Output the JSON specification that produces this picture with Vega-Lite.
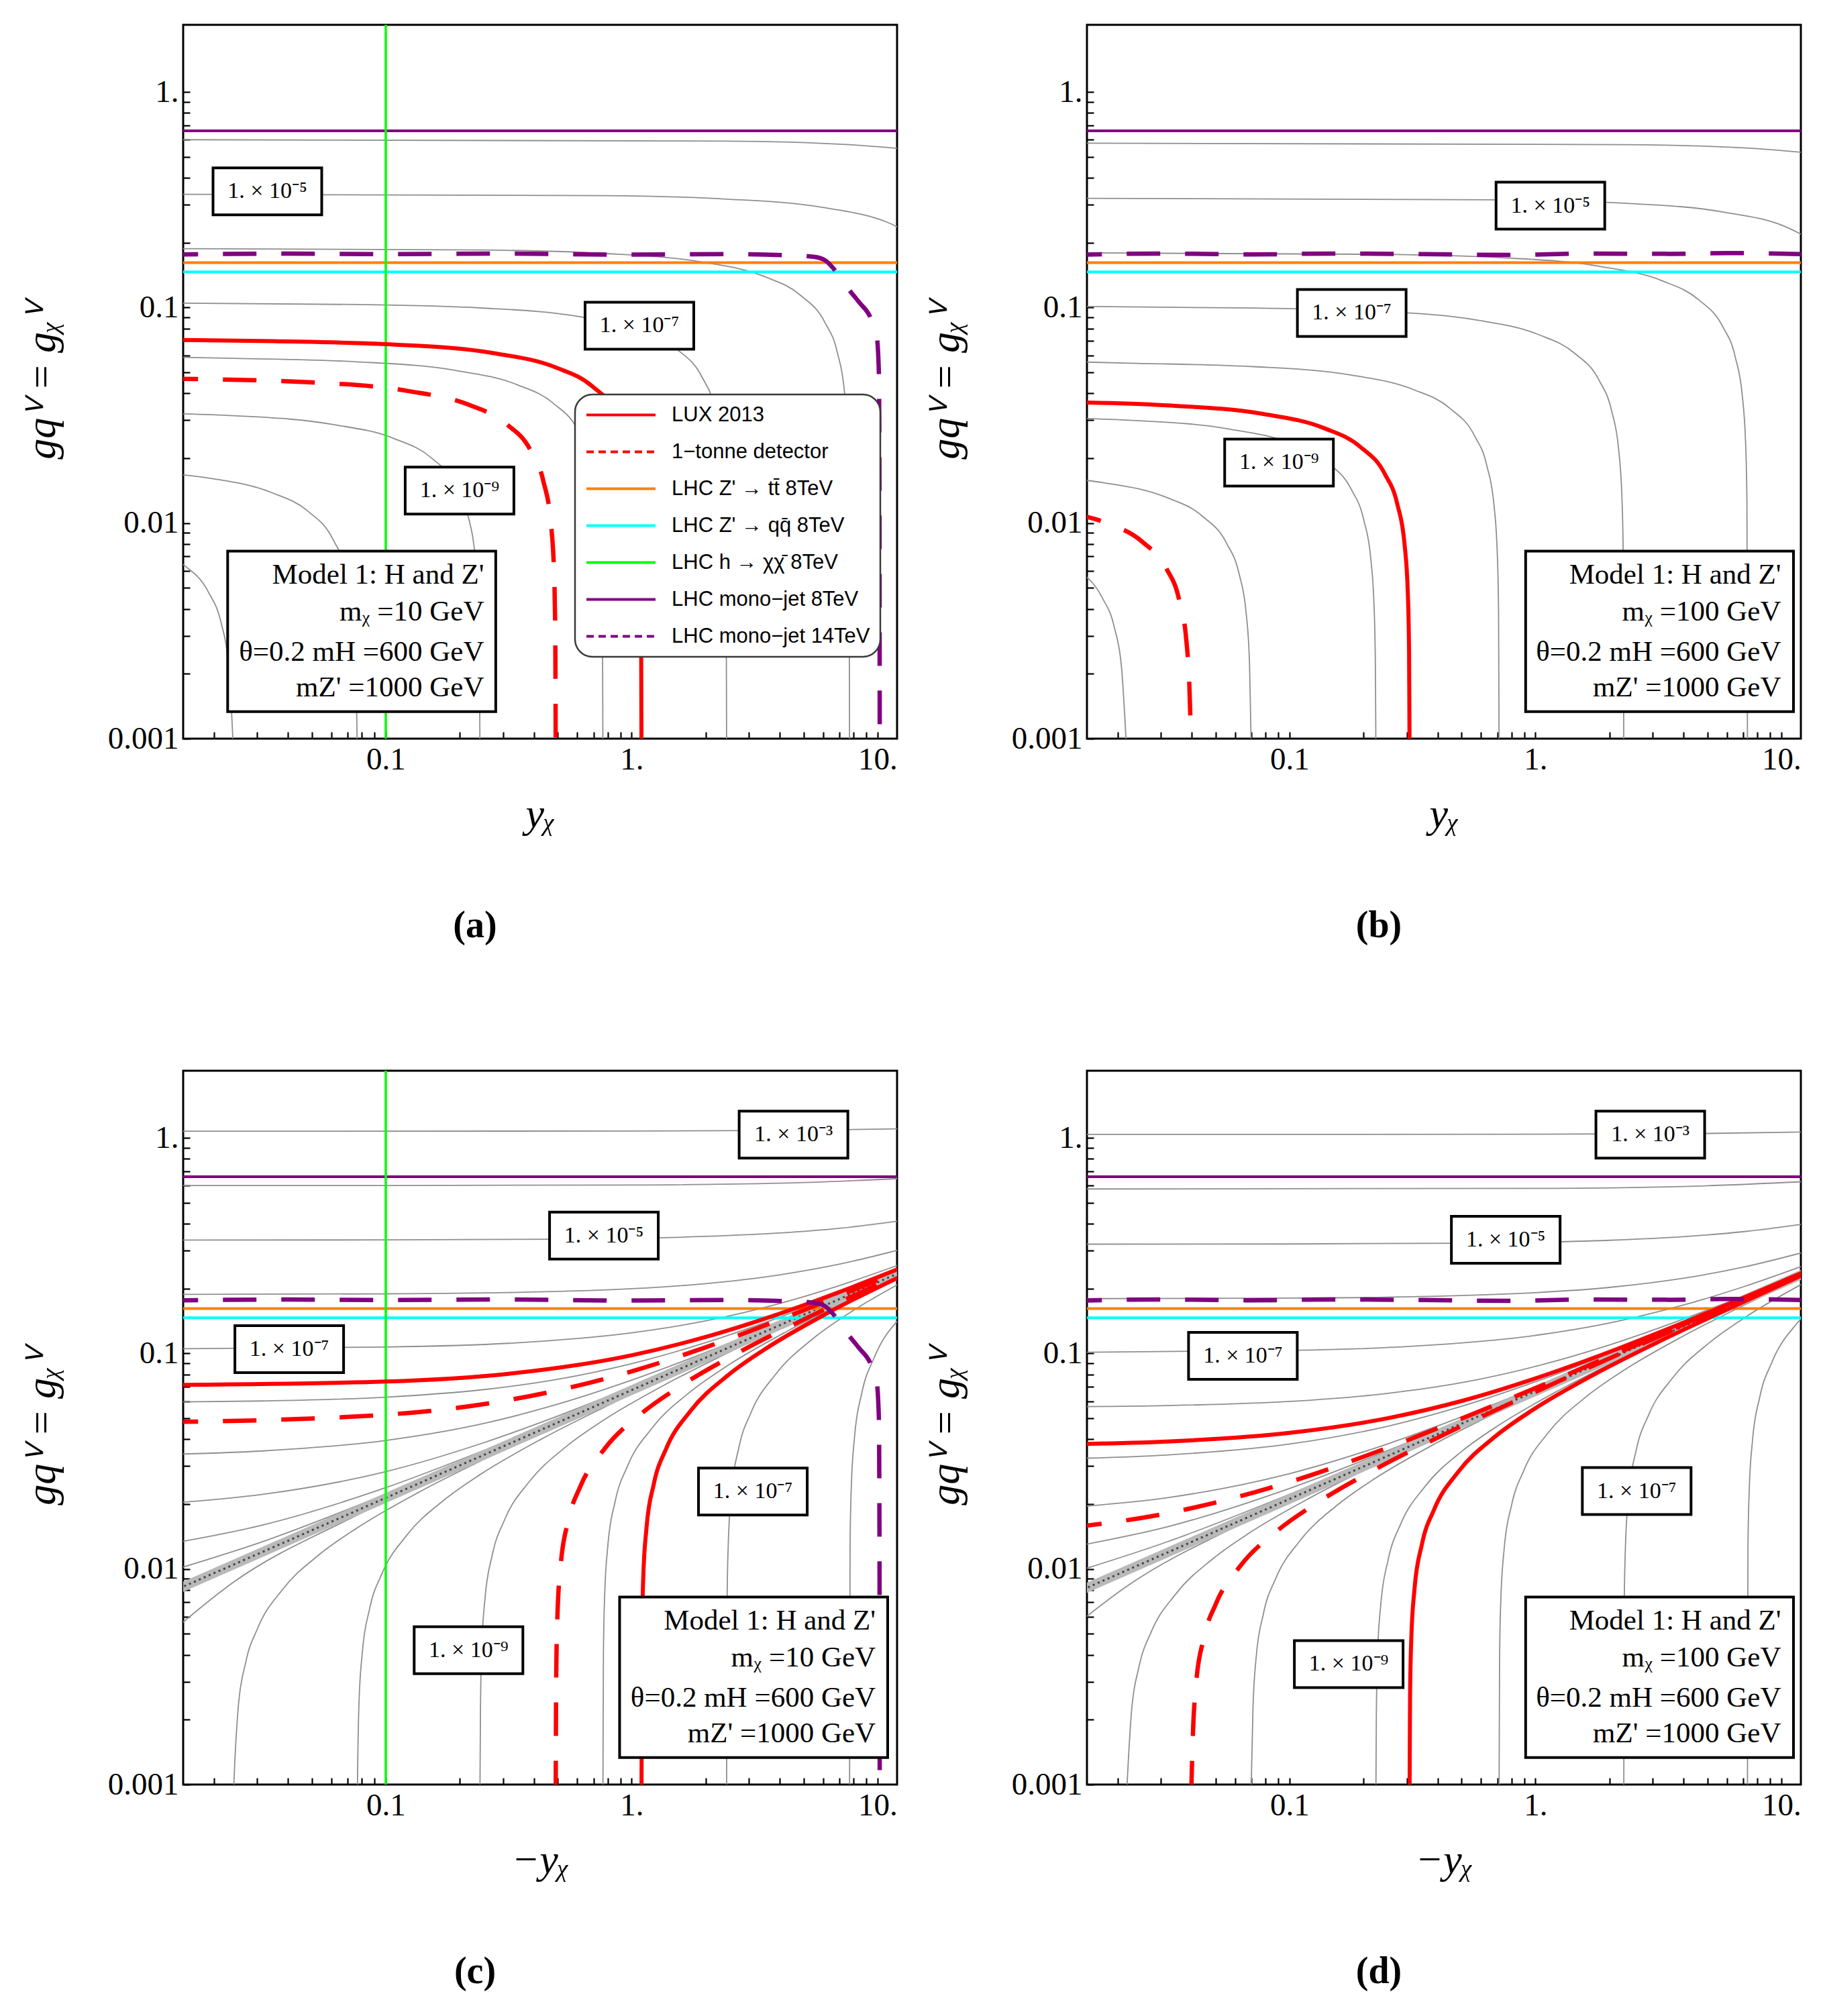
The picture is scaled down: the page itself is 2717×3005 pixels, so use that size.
{
"$schema": "https://vega.github.io/schema/vega-lite/v6.json",
"autosize": {"type": "pad"},
"padding": {"left": 29, "top": 35, "right": 10, "bottom": 10},
"background": "white",
"config": {
  "view": {"stroke": "black", "strokeWidth": 3},
  "axis": {"domain": false, "grid": false, "ticks": true, "tickColor": "black", "tickWidth": 2.2, "tickSize": -10, "labelFont": "Liberation Serif", "labelFontSize": 47, "labelColor": "black", "labelOverlap": false, "labelFlush": false, "labelBound": false, "titleFont": "Liberation Serif", "titleFontSize": 62, "titleFontStyle": "italic", "titleFontWeight": "normal", "titleColor": "black"},
  "axisX": {"labelPadding": 18, "titlePadding": 28},
  "axisY": {"labelPadding": 17, "titlePadding": 66},
  "title": {"font": "Liberation Serif", "fontSize": 56, "fontWeight": "bold", "color": "black"}
},
"datasets": {
"hl": [
 {"s":"LHC Z' → tt\u0304 8TeV","x":0.0126,"y":0.1616},{"s":"LHC Z' → tt\u0304 8TeV","x":13,"y":0.1616},
 {"s":"LHC Z' → qq\u0304 8TeV","x":0.0126,"y":0.1463},{"s":"LHC Z' → qq\u0304 8TeV","x":13,"y":0.1463},
 {"s":"LHC mono−jet 8TeV","x":0.0126,"y":0.661},{"s":"LHC mono−jet 8TeV","x":13,"y":0.661}
],
"vl": [
 {"s":"LHC h → χχ\u0304 8TeV","x":0.1,"y":0.0009},{"s":"LHC h → χχ\u0304 8TeV","x":0.1,"y":2.2}
],
"zc": [{"x":0.01,"y":0.00676},{"x":13,"y":0.2438}],
"zd": [{"x":0.01,"y":0.00668},{"x":13,"y":0.241}],
"aG": [
 {"c":"k1","x":0.0126,"y":0.601},{"c":"k1","x":2.43,"y":0.592},{"c":"k1","x":7.69,"y":0.570},{"c":"k1","x":19.3,"y":0.520},
 {"c":"k2","x":0.0126,"y":0.3357},{"c":"k2","x":0.769,"y":0.3304},{"c":"k2","x":2.432,"y":0.3185},{"c":"k2","x":6.109,"y":0.2905},{"c":"k2","x":10.86,"y":0.2497},{"c":"k2","x":15.35,"y":0.204},
 {"c":"k3","x":0.0126,"y":0.1879},{"c":"k3","x":0.2432,"y":0.1849},{"c":"k3","x":0.769,"y":0.1783},{"c":"k3","x":1.932,"y":0.1626},{"c":"k3","x":3.436,"y":0.1398},{"c":"k3","x":4.853,"y":0.1141},{"c":"k3","x":6.109,"y":0.0852},{"c":"k3","x":6.855,"y":0.062},{"c":"k3","x":7.345,"y":0.0399},{"c":"k3","x":7.568,"y":0.02377},{"c":"k3","x":7.656,"y":0.01274},{"c":"k3","x":7.691,"y":0.0009},
 {"c":"k4","x":0.0126,"y":0.105},{"c":"k4","x":0.0769,"y":0.1033},{"c":"k4","x":0.2432,"y":0.0996},{"c":"k4","x":0.611,"y":0.0908},{"c":"k4","x":1.086,"y":0.0781},{"c":"k4","x":1.535,"y":0.0638},{"c":"k4","x":1.932,"y":0.0476},{"c":"k4","x":2.168,"y":0.0346},{"c":"k4","x":2.323,"y":0.02228},{"c":"k4","x":2.393,"y":0.01327},{"c":"k4","x":2.421,"y":0.00711},{"c":"k4","x":2.432,"y":0.0009},
 {"c":"k5","x":0.0126,"y":0.059},{"c":"k5","x":0.02415,"y":0.0581},{"c":"k5","x":0.0764,"y":0.056},{"c":"k5","x":0.1919,"y":0.0511},{"c":"k5","x":0.3412,"y":0.0439},{"c":"k5","x":0.4819,"y":0.03585},{"c":"k5","x":0.6067,"y":0.02677},{"c":"k5","x":0.6808,"y":0.01946},{"c":"k5","x":0.7295,"y":0.01253},{"c":"k5","x":0.7516,"y":0.00746},{"c":"k5","x":0.7603,"y":0.004},{"c":"k5","x":0.7638,"y":0.0009},
 {"c":"k6","x":0.0126,"y":0.0323},{"c":"k6","x":0.02415,"y":0.0315},{"c":"k6","x":0.0607,"y":0.0287},{"c":"k6","x":0.1079,"y":0.0247},{"c":"k6","x":0.1524,"y":0.02016},{"c":"k6","x":0.1919,"y":0.01505},{"c":"k6","x":0.2153,"y":0.01094},{"c":"k6","x":0.2307,"y":0.00705},{"c":"k6","x":0.2377,"y":0.0042},{"c":"k6","x":0.2404,"y":0.00225},{"c":"k6","x":0.2415,"y":0.0009},
 {"c":"k7","x":0.0126,"y":0.01706},{"c":"k7","x":0.01923,"y":0.01615},{"c":"k7","x":0.0342,"y":0.01388},{"c":"k7","x":0.0483,"y":0.01134},{"c":"k7","x":0.0608,"y":0.00846},{"c":"k7","x":0.0682,"y":0.00615},{"c":"k7","x":0.0731,"y":0.00396},{"c":"k7","x":0.0753,"y":0.00236},{"c":"k7","x":0.0762,"y":0.00126},{"c":"k7","x":0.0766,"y":0.0009},
 {"c":"k8","x":0.0126,"y":0.00724},{"c":"k8","x":0.01514,"y":0.00637},{"c":"k8","x":0.01905,"y":0.00476},{"c":"k8","x":0.02138,"y":0.00346},{"c":"k8","x":0.02291,"y":0.00223},{"c":"k8","x":0.0236,"y":0.00133},{"c":"k8","x":0.02399,"y":0.0009}
],
"bG": [
 {"c":"k1","x":0.0126,"y":0.5794},{"c":"k1","x":2.291,"y":0.5702},{"c":"k1","x":7.244,"y":0.5497},{"c":"k1","x":18.2,"y":0.5014},
 {"c":"k2","x":0.0126,"y":0.3214},{"c":"k2","x":0.7244,"y":0.3162},{"c":"k2","x":2.291,"y":0.3048},{"c":"k2","x":5.754,"y":0.278},{"c":"k2","x":10.23,"y":0.239},{"c":"k2","x":14.45,"y":0.1952},
 {"c":"k3","x":0.0126,"y":0.1795},{"c":"k3","x":0.2301,"y":0.1766},{"c":"k3","x":0.7278,"y":0.1703},{"c":"k3","x":1.828,"y":0.1553},{"c":"k3","x":3.251,"y":0.1335},{"c":"k3","x":4.592,"y":0.109},{"c":"k3","x":5.781,"y":0.0814},{"c":"k3","x":6.486,"y":0.0592},{"c":"k3","x":6.95,"y":0.0381},{"c":"k3","x":7.161,"y":0.0227},{"c":"k3","x":7.244,"y":0.01216},{"c":"k3","x":7.278,"y":0.0009},
 {"c":"k4","x":0.0126,"y":0.1012},{"c":"k4","x":0.0723,"y":0.0995},{"c":"k4","x":0.2286,"y":0.096},{"c":"k4","x":0.5741,"y":0.0876},{"c":"k4","x":1.021,"y":0.0752},{"c":"k4","x":1.442,"y":0.0614},{"c":"k4","x":1.816,"y":0.0459},{"c":"k4","x":2.037,"y":0.0334},{"c":"k4","x":2.183,"y":0.02148},{"c":"k4","x":2.249,"y":0.0128},{"c":"k4","x":2.275,"y":0.00686},{"c":"k4","x":2.286,"y":0.0009},
 {"c":"k5","x":0.0126,"y":0.0561},{"c":"k5","x":0.02249,"y":0.0552},{"c":"k5","x":0.0711,"y":0.0532},{"c":"k5","x":0.1786,"y":0.0486},{"c":"k5","x":0.3177,"y":0.0417},{"c":"k5","x":0.4487,"y":0.0341},{"c":"k5","x":0.5649,"y":0.02544},{"c":"k5","x":0.6339,"y":0.0185},{"c":"k5","x":0.6792,"y":0.01191},{"c":"k5","x":0.6998,"y":0.0071},{"c":"k5","x":0.7079,"y":0.0038},{"c":"k5","x":0.7112,"y":0.0009},
 {"c":"k6","x":0.0126,"y":0.03073},{"c":"k6","x":0.02244,"y":0.03},{"c":"k6","x":0.0564,"y":0.02736},{"c":"k6","x":0.1002,"y":0.02352},{"c":"k6","x":0.1416,"y":0.0192},{"c":"k6","x":0.1782,"y":0.01434},{"c":"k6","x":0.2,"y":0.01042},{"c":"k6","x":0.2143,"y":0.00671},{"c":"k6","x":0.2208,"y":0.004},{"c":"k6","x":0.2234,"y":0.00214},{"c":"k6","x":0.2244,"y":0.0009},
 {"c":"k7","x":0.0126,"y":0.01609},{"c":"k7","x":0.01754,"y":0.01539},{"c":"k7","x":0.03119,"y":0.01323},{"c":"k7","x":0.04406,"y":0.0108},{"c":"k7","x":0.05546,"y":0.00806},{"c":"k7","x":0.06223,"y":0.00586},{"c":"k7","x":0.06668,"y":0.00378},{"c":"k7","x":0.06871,"y":0.00225},{"c":"k7","x":0.0695,"y":0.0012},{"c":"k7","x":0.06982,"y":0.0009},
 {"c":"k8","x":0.0126,"y":0.00649},{"c":"k8","x":0.01371,"y":0.00607},{"c":"k8","x":0.01726,"y":0.00453},{"c":"k8","x":0.01936,"y":0.0033},{"c":"k8","x":0.02075,"y":0.00212},{"c":"k8","x":0.02138,"y":0.00126},{"c":"k8","x":0.02173,"y":0.0009}
],
"cG": [
 {"c":"u0","x":0.0126,"y":1.074},{"c":"u0","x":1,"y":1.076},{"c":"u0","x":5,"y":1.085},{"c":"u0","x":12.6,"y":1.102},
 {"c":"u1","x":0.0126,"y":0.601},{"c":"u1","x":0.1,"y":0.6015},{"c":"u1","x":1,"y":0.605},{"c":"u1","x":3.981,"y":0.6166},{"c":"u1","x":12.59,"y":0.6483},
 {"c":"u2","x":0.0126,"y":0.3357},{"c":"u2","x":0.1,"y":0.3364},{"c":"u2","x":0.5012,"y":0.3391},{"c":"u2","x":1.995,"y":0.3492},{"c":"u2","x":3.981,"y":0.3621},{"c":"u2","x":7.079,"y":0.3815},{"c":"u2","x":12.59,"y":0.4135},
 {"c":"u3","x":0.0126,"y":0.1879},{"c":"u3","x":0.1,"y":0.1891},{"c":"u3","x":0.3162,"y":0.1917},{"c":"u3","x":1,"y":0.1997},{"c":"u3","x":1.995,"y":0.2109},{"c":"u3","x":3.981,"y":0.2315},{"c":"u3","x":7.079,"y":0.2604},{"c":"u3","x":12.59,"y":0.3052},
 {"c":"u4","x":0.0126,"y":0.105},{"c":"u4","x":0.1,"y":0.1071},{"c":"u4","x":0.3162,"y":0.1115},{"c":"u4","x":1,"y":0.1247},{"c":"u4","x":1.995,"y":0.1416},{"c":"u4","x":3.981,"y":0.1704},{"c":"u4","x":7.079,"y":0.2076},{"c":"u4","x":12.59,"y":0.2609},
 {"c":"u5","x":0.0126,"y":0.0595},{"c":"u5","x":0.03162,"y":0.0602},{"c":"u5","x":0.1,"y":0.0627},{"c":"u5","x":0.2512,"y":0.068},{"c":"u5","x":0.5012,"y":0.0759},{"c":"u5","x":1,"y":0.0897},{"c":"u5","x":1.995,"y":0.1122},{"c":"u5","x":3.981,"y":0.1471},{"c":"u5","x":7.079,"y":0.1891},{"c":"u5","x":12.59,"y":0.2468},
 {"c":"u6","x":0.0126,"y":0.034},{"c":"u6","x":0.03162,"y":0.0353},{"c":"u6","x":0.1,"y":0.0395},{"c":"u6","x":0.2512,"y":0.0474},{"c":"u6","x":0.5012,"y":0.0582},{"c":"u6","x":1,"y":0.0752},{"c":"u6","x":1.995,"y":0.101},{"c":"u6","x":3.981,"y":0.1388},{"c":"u6","x":7.079,"y":0.1827},{"c":"u6","x":12.59,"y":0.2418},
 {"c":"u7","x":0.0126,"y":0.0201},{"c":"u7","x":0.03162,"y":0.0222},{"c":"u7","x":0.1,"y":0.0283},{"c":"u7","x":0.2512,"y":0.0386},{"c":"u7","x":0.5012,"y":0.0513},{"c":"u7","x":1,"y":0.07},{"c":"u7","x":1.995,"y":0.0971},{"c":"u7","x":3.981,"y":0.1359},{"c":"u7","x":7.079,"y":0.1804},{"c":"u7","x":12.59,"y":0.24},
 {"c":"u8","x":0.0126,"y":0.01297},{"c":"u8","x":0.03162,"y":0.016},{"c":"u8","x":0.1,"y":0.02385},{"c":"u8","x":0.2512,"y":0.03555},{"c":"u8","x":0.5012,"y":0.0491},{"c":"u8","x":1,"y":0.0686},{"c":"u8","x":1.995,"y":0.0963},{"c":"u8","x":3.981,"y":0.1357},{"c":"u8","x":12.59,"y":0.2406},
 {"c":"u9","x":0.0126,"y":0.00962},{"c":"u9","x":0.03162,"y":0.01341},{"c":"u9","x":0.1,"y":0.02222},{"c":"u9","x":0.3162,"y":0.03857},{"c":"u9","x":1,"y":0.068},{"c":"u9","x":3.162,"y":0.1207},{"c":"u9","x":12.59,"y":0.2405},
 {"c":"l3","x":7.691,"y":0.0009},{"c":"l3","x":7.727,"y":0.01277},{"c":"l3","x":7.816,"y":0.02395},{"c":"l3","x":8.054,"y":0.0408},{"c":"l3","x":8.63,"y":0.0657},{"c":"l3","x":9.683,"y":0.0956},{"c":"l3","x":12.19,"y":0.1437},
 {"c":"l4","x":2.432,"y":0.0009},{"c":"l4","x":2.443,"y":0.00713},{"c":"l4","x":2.472,"y":0.01338},{"c":"l4","x":2.547,"y":0.02278},{"c":"l4","x":2.729,"y":0.03666},{"c":"l4","x":3.062,"y":0.0534},{"c":"l4","x":3.855,"y":0.0802},{"c":"l4","x":5.445,"y":0.1168},{"c":"l4","x":7.691,"y":0.1543},{"c":"l4","x":13.68,"y":0.2257},
 {"c":"l5","x":0.7638,"y":0.0009},{"c":"l5","x":0.7674,"y":0.00401},{"c":"l5","x":0.7762,"y":0.00752},{"c":"l5","x":0.7998,"y":0.01281},{"c":"l5","x":0.857,"y":0.02062},{"c":"l5","x":0.9616,"y":0.03003},{"c":"l5","x":1.211,"y":0.04513},{"c":"l5","x":1.71,"y":0.06569},{"c":"l5","x":2.415,"y":0.0868},{"c":"l5","x":4.295,"y":0.1269},{"c":"l5","x":7.638,"y":0.177},{"c":"l5","x":13.58,"y":0.2416},
 {"c":"l6","x":0.2415,"y":0.0009},{"c":"l6","x":0.2427,"y":0.00225},{"c":"l6","x":0.2455,"y":0.00423},{"c":"l6","x":0.2529,"y":0.0072},{"c":"l6","x":0.271,"y":0.0116},{"c":"l6","x":0.3041,"y":0.0169},{"c":"l6","x":0.3828,"y":0.02538},{"c":"l6","x":0.5408,"y":0.03694},{"c":"l6","x":0.7638,"y":0.04881},{"c":"l6","x":1.358,"y":0.07139},{"c":"l6","x":2.415,"y":0.0996},{"c":"l6","x":7.638,"y":0.1837},{"c":"l6","x":13.58,"y":0.2467},
 {"c":"l7","x":0.0766,"y":0.0009},{"c":"l7","x":0.0769,"y":0.00127},{"c":"l7","x":0.0778,"y":0.00238},{"c":"l7","x":0.0802,"y":0.00405},{"c":"l7","x":0.0859,"y":0.00652},{"c":"l7","x":0.0964,"y":0.0095},{"c":"l7","x":0.1213,"y":0.01427},{"c":"l7","x":0.1714,"y":0.02077},{"c":"l7","x":0.2421,"y":0.02744},{"c":"l7","x":0.4305,"y":0.04013},{"c":"l7","x":0.7656,"y":0.05598},{"c":"l7","x":2.421,"y":0.1033},{"c":"l7","x":7.656,"y":0.1857},{"c":"l7","x":13.61,"y":0.2481},
 {"c":"l8","x":0.024,"y":0.0009},{"c":"l8","x":0.02438,"y":0.00134},{"c":"l8","x":0.02512,"y":0.00228},{"c":"l8","x":0.02692,"y":0.00367},{"c":"l8","x":0.0302,"y":0.00534},{"c":"l8","x":0.038,"y":0.00802},{"c":"l8","x":0.0537,"y":0.01168},{"c":"l8","x":0.0759,"y":0.01543},{"c":"l8","x":0.1349,"y":0.02257},{"c":"l8","x":0.2399,"y":0.0315},{"c":"l8","x":0.7586,"y":0.0581},{"c":"l8","x":2.399,"y":0.1044},{"c":"l8","x":7.586,"y":0.1863},{"c":"l8","x":13.49,"y":0.2486},
 {"c":"l9","x":0.0126,"y":0.00479},{"c":"l9","x":0.024,"y":0.00868},{"c":"l9","x":0.0759,"y":0.0177},{"c":"l9","x":0.2399,"y":0.03266},{"c":"l9","x":0.7586,"y":0.05873},{"c":"l9","x":2.399,"y":0.1045},{"c":"l9","x":13.49,"y":0.2485}
],
"dG": [
 {"c":"u0","x":0.0126,"y":1.038},{"c":"u0","x":1,"y":1.04},{"c":"u0","x":5,"y":1.049},{"c":"u0","x":12.6,"y":1.066},
 {"c":"u1","x":0.0126,"y":0.5794},{"c":"u1","x":1,"y":0.5834},{"c":"u1","x":3.981,"y":0.5951},{"c":"u1","x":12.59,"y":0.6277},
 {"c":"u2","x":0.0126,"y":0.3214},{"c":"u2","x":0.1,"y":0.3221},{"c":"u2","x":0.5012,"y":0.3249},{"c":"u2","x":1.995,"y":0.335},{"c":"u2","x":3.981,"y":0.3482},{"c":"u2","x":7.079,"y":0.3677},{"c":"u2","x":12.59,"y":0.4},
 {"c":"u3","x":0.0126,"y":0.1795},{"c":"u3","x":0.1,"y":0.1807},{"c":"u3","x":0.3162,"y":0.1833},{"c":"u3","x":1,"y":0.1914},{"c":"u3","x":1.995,"y":0.2025},{"c":"u3","x":3.981,"y":0.2232},{"c":"u3","x":7.079,"y":0.2521},{"c":"u3","x":12.59,"y":0.2965},
 {"c":"u4","x":0.0126,"y":0.1012},{"c":"u4","x":0.1,"y":0.1033},{"c":"u4","x":0.3162,"y":0.108},{"c":"u4","x":1,"y":0.1213},{"c":"u4","x":1.995,"y":0.1384},{"c":"u4","x":3.981,"y":0.1675},{"c":"u4","x":7.079,"y":0.2047},{"c":"u4","x":12.59,"y":0.258},
 {"c":"u5","x":0.0126,"y":0.0566},{"c":"u5","x":0.03162,"y":0.0573},{"c":"u5","x":0.1,"y":0.0599},{"c":"u5","x":0.2512,"y":0.0653},{"c":"u5","x":0.5012,"y":0.0732},{"c":"u5","x":1,"y":0.0871},{"c":"u5","x":1.995,"y":0.1094},{"c":"u5","x":3.981,"y":0.1441},{"c":"u5","x":7.079,"y":0.1857},{"c":"u5","x":12.59,"y":0.2426},
 {"c":"u6","x":0.0126,"y":0.0325},{"c":"u6","x":0.03162,"y":0.0338},{"c":"u6","x":0.1,"y":0.038},{"c":"u6","x":0.2512,"y":0.046},{"c":"u6","x":0.5012,"y":0.0569},{"c":"u6","x":1,"y":0.0739},{"c":"u6","x":1.995,"y":0.0995},{"c":"u6","x":3.981,"y":0.1369},{"c":"u6","x":7.079,"y":0.1804},{"c":"u6","x":12.59,"y":0.2389},
 {"c":"u7","x":0.0126,"y":0.0193},{"c":"u7","x":0.03162,"y":0.0214},{"c":"u7","x":0.1,"y":0.0277},{"c":"u7","x":0.2512,"y":0.0381},{"c":"u7","x":0.5012,"y":0.0508},{"c":"u7","x":1,"y":0.0696},{"c":"u7","x":1.995,"y":0.0967},{"c":"u7","x":3.981,"y":0.1354},{"c":"u7","x":7.079,"y":0.1799},{"c":"u7","x":12.59,"y":0.2394},
 {"c":"u8","x":0.0126,"y":0.01257},{"c":"u8","x":0.03162,"y":0.01567},{"c":"u8","x":0.1,"y":0.02366},{"c":"u8","x":0.2512,"y":0.03544},{"c":"u8","x":0.5012,"y":0.0491},{"c":"u8","x":1,"y":0.0686},{"c":"u8","x":1.995,"y":0.0963},{"c":"u8","x":3.981,"y":0.1357},{"c":"u8","x":12.59,"y":0.2408},
 {"c":"u9","x":0.0126,"y":0.00948},{"c":"u9","x":0.03162,"y":0.01334},{"c":"u9","x":0.1,"y":0.02222},{"c":"u9","x":0.3162,"y":0.03866},{"c":"u9","x":1,"y":0.0682},{"c":"u9","x":3.162,"y":0.1211},{"c":"u9","x":12.59,"y":0.2413},
 {"c":"l3","x":7.278,"y":0.0009},{"c":"l3","x":7.311,"y":0.0122},{"c":"l3","x":7.396,"y":0.02288},{"c":"l3","x":7.621,"y":0.03896},{"c":"l3","x":8.166,"y":0.06268},{"c":"l3","x":9.162,"y":0.0913},{"c":"l3","x":11.53,"y":0.1373},{"c":"l3","x":12.94,"y":0.1583},
 {"c":"l4","x":2.286,"y":0.0009},{"c":"l4","x":2.296,"y":0.00687},{"c":"l4","x":2.323,"y":0.0129},{"c":"l4","x":2.393,"y":0.02196},{"c":"l4","x":2.564,"y":0.03533},{"c":"l4","x":2.877,"y":0.05148},{"c":"l4","x":3.622,"y":0.07735},{"c":"l4","x":5.117,"y":0.1126},{"c":"l4","x":7.228,"y":0.1487},{"c":"l4","x":12.85,"y":0.2176},
 {"c":"l5","x":0.7112,"y":0.0009},{"c":"l5","x":0.7145,"y":0.00381},{"c":"l5","x":0.7228,"y":0.00715},{"c":"l5","x":0.7447,"y":0.01218},{"c":"l5","x":0.798,"y":0.0196},{"c":"l5","x":0.8954,"y":0.02855},{"c":"l5","x":1.127,"y":0.04291},{"c":"l5","x":1.592,"y":0.06245},{"c":"l5","x":2.249,"y":0.08251},{"c":"l5","x":3.999,"y":0.1206},{"c":"l5","x":7.112,"y":0.1683},{"c":"l5","x":12.94,"y":0.2327},
 {"c":"l6","x":0.2244,"y":0.0009},{"c":"l6","x":0.2254,"y":0.00215},{"c":"l6","x":0.228,"y":0.00403},{"c":"l6","x":0.235,"y":0.00686},{"c":"l6","x":0.2518,"y":0.01104},{"c":"l6","x":0.2825,"y":0.01609},{"c":"l6","x":0.3556,"y":0.02417},{"c":"l6","x":0.5023,"y":0.03519},{"c":"l6","x":0.7096,"y":0.04648},{"c":"l6","x":1.262,"y":0.068},{"c":"l6","x":2.244,"y":0.0949},{"c":"l6","x":7.096,"y":0.175},{"c":"l6","x":12.91,"y":0.2377},
 {"c":"l7","x":0.0698,"y":0.0009},{"c":"l7","x":0.0701,"y":0.00121},{"c":"l7","x":0.071,"y":0.00227},{"c":"l7","x":0.0731,"y":0.00386},{"c":"l7","x":0.0783,"y":0.00621},{"c":"l7","x":0.0879,"y":0.00905},{"c":"l7","x":0.1107,"y":0.0136},{"c":"l7","x":0.1563,"y":0.01979},{"c":"l7","x":0.2208,"y":0.02615},{"c":"l7","x":0.3926,"y":0.03824},{"c":"l7","x":0.6982,"y":0.05334},{"c":"l7","x":2.208,"y":0.0984},{"c":"l7","x":6.982,"y":0.1769},{"c":"l7","x":13.0,"y":0.2419},
 {"c":"l8","x":0.02173,"y":0.0009},{"c":"l8","x":0.02208,"y":0.00127},{"c":"l8","x":0.02275,"y":0.00217},{"c":"l8","x":0.02438,"y":0.00349},{"c":"l8","x":0.02735,"y":0.00509},{"c":"l8","x":0.03443,"y":0.00765},{"c":"l8","x":0.04864,"y":0.01113},{"c":"l8","x":0.06871,"y":0.01471},{"c":"l8","x":0.1222,"y":0.0215},{"c":"l8","x":0.2173,"y":0.03},{"c":"l8","x":0.6871,"y":0.05534},{"c":"l8","x":2.173,"y":0.09946},{"c":"l8","x":6.871,"y":0.1775},{"c":"l8","x":13.09,"y":0.2453},
 {"c":"l9","x":0.0126,"y":0.00516},{"c":"l9","x":0.02163,"y":0.00827},{"c":"l9","x":0.06839,"y":0.01687},{"c":"l9","x":0.2163,"y":0.03112},{"c":"l9","x":0.6839,"y":0.05596},{"c":"l9","x":2.163,"y":0.09984},{"c":"l9","x":13.03,"y":0.2454}
],
"aS": [
 {"s":"LUX 2013","c":"L","x":0.0126,"y":0.071},{"s":"LUX 2013","c":"L","x":0.0347,"y":0.0698},{"s":"LUX 2013","c":"L","x":0.1096,"y":0.0673},{"s":"LUX 2013","c":"L","x":0.2754,"y":0.0614},{"s":"LUX 2013","c":"L","x":0.4898,"y":0.0528},{"s":"LUX 2013","c":"L","x":0.6918,"y":0.0431},{"s":"LUX 2013","c":"L","x":0.871,"y":0.0322},{"s":"LUX 2013","c":"L","x":0.9772,"y":0.0234},{"s":"LUX 2013","c":"L","x":1.047,"y":0.01507},{"s":"LUX 2013","c":"L","x":1.079,"y":0.00897},{"s":"LUX 2013","c":"L","x":1.091,"y":0.00481},{"s":"LUX 2013","c":"L","x":1.096,"y":0.0009},
 {"s":"1−tonne detector","c":"T","x":0.0126,"y":0.0468},{"s":"1−tonne detector","c":"T","x":0.0491,"y":0.045},{"s":"1−tonne detector","c":"T","x":0.1233,"y":0.041},{"s":"1−tonne detector","c":"T","x":0.2193,"y":0.0353},{"s":"1−tonne detector","c":"T","x":0.3097,"y":0.0288},{"s":"1−tonne detector","c":"T","x":0.3899,"y":0.0215},{"s":"1−tonne detector","c":"T","x":0.4375,"y":0.01563},{"s":"1−tonne detector","c":"T","x":0.4688,"y":0.01007},{"s":"1−tonne detector","c":"T","x":0.4831,"y":0.006},{"s":"1−tonne detector","c":"T","x":0.4887,"y":0.00321},{"s":"1−tonne detector","c":"T","x":0.4909,"y":0.0009},
 {"s":"LHC mono−jet 14TeV","c":"M","x":0.0126,"y":0.176},{"s":"LHC mono−jet 14TeV","c":"M","x":0.04,"y":0.178},{"s":"LHC mono−jet 14TeV","c":"M","x":0.1,"y":0.177},{"s":"LHC mono−jet 14TeV","c":"M","x":0.3,"y":0.178},{"s":"LHC mono−jet 14TeV","c":"M","x":1,"y":0.176},{"s":"LHC mono−jet 14TeV","c":"M","x":2.5,"y":0.177},{"s":"LHC mono−jet 14TeV","c":"M","x":4.2,"y":0.175},{"s":"LHC mono−jet 14TeV","c":"M","x":5.5,"y":0.172},{"s":"LHC mono−jet 14TeV","c":"M","x":6.1,"y":0.166},{"s":"LHC mono−jet 14TeV","c":"M","x":6.8,"y":0.146},{"s":"LHC mono−jet 14TeV","c":"M","x":7.4,"y":0.127},{"s":"LHC mono−jet 14TeV","c":"M","x":8.4,"y":0.106},{"s":"LHC mono−jet 14TeV","c":"M","x":9.35,"y":0.09},{"s":"LHC mono−jet 14TeV","c":"M","x":9.9,"y":0.075},{"s":"LHC mono−jet 14TeV","c":"M","x":10.12,"y":0.05},{"s":"LHC mono−jet 14TeV","c":"M","x":10.18,"y":0.012},{"s":"LHC mono−jet 14TeV","c":"M","x":10.2,"y":0.0009}
],
"bS": [
 {"s":"LUX 2013","c":"L","x":0.0126,"y":0.0364},{"s":"LUX 2013","c":"L","x":0.03076,"y":0.03524},{"s":"LUX 2013","c":"L","x":0.07727,"y":0.03216},{"s":"LUX 2013","c":"L","x":0.1374,"y":0.02764},{"s":"LUX 2013","c":"L","x":0.1941,"y":0.02257},{"s":"LUX 2013","c":"L","x":0.2443,"y":0.01685},{"s":"LUX 2013","c":"L","x":0.2742,"y":0.01225},{"s":"LUX 2013","c":"L","x":0.2938,"y":0.00789},{"s":"LUX 2013","c":"L","x":0.3027,"y":0.0047},{"s":"LUX 2013","c":"L","x":0.3062,"y":0.00252},{"s":"LUX 2013","c":"L","x":0.3076,"y":0.0009},
 {"s":"1−tonne detector","c":"T","x":0.0126,"y":0.01118},{"s":"1−tonne detector","c":"T","x":0.01778,"y":0.01006},{"s":"1−tonne detector","c":"T","x":0.02512,"y":0.00821},{"s":"1−tonne detector","c":"T","x":0.03162,"y":0.00613},{"s":"1−tonne detector","c":"T","x":0.03548,"y":0.00446},{"s":"1−tonne detector","c":"T","x":0.03802,"y":0.00287},{"s":"1−tonne detector","c":"T","x":0.03917,"y":0.00171},{"s":"1−tonne detector","c":"T","x":0.03981,"y":0.0009},
 {"s":"LHC mono−jet 14TeV","c":"M","x":0.0126,"y":0.1755},{"s":"LHC mono−jet 14TeV","c":"M","x":0.03,"y":0.178},{"s":"LHC mono−jet 14TeV","c":"M","x":0.07,"y":0.1765},{"s":"LHC mono−jet 14TeV","c":"M","x":0.15,"y":0.178},{"s":"LHC mono−jet 14TeV","c":"M","x":0.35,"y":0.177},{"s":"LHC mono−jet 14TeV","c":"M","x":0.8,"y":0.1755},{"s":"LHC mono−jet 14TeV","c":"M","x":1.6,"y":0.178},{"s":"LHC mono−jet 14TeV","c":"M","x":3.5,"y":0.1775},{"s":"LHC mono−jet 14TeV","c":"M","x":6,"y":0.179},{"s":"LHC mono−jet 14TeV","c":"M","x":13,"y":0.1765}
],
"cS": [
 {"s":"LUX 2013","c":"Lu","x":0.0126,"y":0.0714},{"s":"LUX 2013","c":"Lu","x":0.1,"y":0.0741},{"s":"LUX 2013","c":"Lu","x":0.3162,"y":0.0805},{"s":"LUX 2013","c":"Lu","x":1,"y":0.0981},{"s":"LUX 2013","c":"Lu","x":1.995,"y":0.1192},{"s":"LUX 2013","c":"Lu","x":3.981,"y":0.1527},{"s":"LUX 2013","c":"Lu","x":7.079,"y":0.1938},{"s":"LUX 2013","c":"Lu","x":12.59,"y":0.2506},
 {"s":"LUX 2013","c":"Ll","x":1.096,"y":0.0009},{"s":"LUX 2013","c":"Ll","x":1.102,"y":0.00482},{"s":"LUX 2013","c":"Ll","x":1.114,"y":0.00904},{"s":"LUX 2013","c":"Ll","x":1.148,"y":0.0154},{"s":"LUX 2013","c":"Ll","x":1.23,"y":0.02479},{"s":"LUX 2013","c":"Ll","x":1.38,"y":0.03611},{"s":"LUX 2013","c":"Ll","x":1.738,"y":0.05427},{"s":"LUX 2013","c":"Ll","x":2.455,"y":0.07898},{"s":"LUX 2013","c":"Ll","x":3.467,"y":0.1043},{"s":"LUX 2013","c":"Ll","x":6.166,"y":0.1527},{"s":"LUX 2013","c":"Ll","x":12.88,"y":0.2326},
 {"s":"1−tonne detector","c":"Tu","x":0.0126,"y":0.048},{"s":"1−tonne detector","c":"Tu","x":0.1,"y":0.052},{"s":"1−tonne detector","c":"Tu","x":0.3162,"y":0.0608},{"s":"1−tonne detector","c":"Tu","x":1,"y":0.0826},{"s":"1−tonne detector","c":"Tu","x":1.995,"y":0.1067},{"s":"1−tonne detector","c":"Tu","x":3.981,"y":0.1432},{"s":"1−tonne detector","c":"Tu","x":7.079,"y":0.1862},{"s":"1−tonne detector","c":"Tu","x":12.59,"y":0.2447},
 {"s":"1−tonne detector","c":"Tl","x":0.4909,"y":0.0009},{"s":"1−tonne detector","c":"Tl","x":0.4932,"y":0.00322},{"s":"1−tonne detector","c":"Tl","x":0.4989,"y":0.00605},{"s":"1−tonne detector","c":"Tl","x":0.514,"y":0.0103},{"s":"1−tonne detector","c":"Tl","x":0.5508,"y":0.01657},{"s":"1−tonne detector","c":"Tl","x":0.618,"y":0.02413},{"s":"1−tonne detector","c":"Tl","x":0.778,"y":0.03627},{"s":"1−tonne detector","c":"Tl","x":1.099,"y":0.05279},{"s":"1−tonne detector","c":"Tl","x":1.552,"y":0.06972},{"s":"1−tonne detector","c":"Tl","x":2.761,"y":0.102},{"s":"1−tonne detector","c":"Tl","x":4.909,"y":0.1422},{"s":"1−tonne detector","c":"Tl","x":12.91,"y":0.2385},
 {"s":"LHC mono−jet 14TeV","c":"M","x":0.0126,"y":0.176},{"s":"LHC mono−jet 14TeV","c":"M","x":0.04,"y":0.178},{"s":"LHC mono−jet 14TeV","c":"M","x":0.1,"y":0.177},{"s":"LHC mono−jet 14TeV","c":"M","x":0.3,"y":0.178},{"s":"LHC mono−jet 14TeV","c":"M","x":1,"y":0.176},{"s":"LHC mono−jet 14TeV","c":"M","x":2.5,"y":0.177},{"s":"LHC mono−jet 14TeV","c":"M","x":4.2,"y":0.175},{"s":"LHC mono−jet 14TeV","c":"M","x":5.5,"y":0.172},{"s":"LHC mono−jet 14TeV","c":"M","x":6.1,"y":0.166},{"s":"LHC mono−jet 14TeV","c":"M","x":6.8,"y":0.146},{"s":"LHC mono−jet 14TeV","c":"M","x":7.4,"y":0.127},{"s":"LHC mono−jet 14TeV","c":"M","x":8.4,"y":0.106},{"s":"LHC mono−jet 14TeV","c":"M","x":9.35,"y":0.09},{"s":"LHC mono−jet 14TeV","c":"M","x":9.9,"y":0.075},{"s":"LHC mono−jet 14TeV","c":"M","x":10.12,"y":0.05},{"s":"LHC mono−jet 14TeV","c":"M","x":10.18,"y":0.012},{"s":"LHC mono−jet 14TeV","c":"M","x":10.2,"y":0.0009}
],
"dS": [
 {"s":"LUX 2013","c":"Lu","x":0.0126,"y":0.0379},{"s":"LUX 2013","c":"Lu","x":0.03162,"y":0.039},{"s":"LUX 2013","c":"Lu","x":0.1,"y":0.0428},{"s":"LUX 2013","c":"Lu","x":0.2512,"y":0.0501},{"s":"LUX 2013","c":"Lu","x":0.5012,"y":0.0602},{"s":"LUX 2013","c":"Lu","x":1,"y":0.0766},{"s":"LUX 2013","c":"Lu","x":1.995,"y":0.1016},{"s":"LUX 2013","c":"Lu","x":3.981,"y":0.1388},{"s":"LUX 2013","c":"Lu","x":7.079,"y":0.182},{"s":"LUX 2013","c":"Lu","x":12.59,"y":0.2405},
 {"s":"LUX 2013","c":"Ll","x":0.3076,"y":0.0009},{"s":"LUX 2013","c":"Ll","x":0.309,"y":0.00252},{"s":"LUX 2013","c":"Ll","x":0.3126,"y":0.00474},{"s":"LUX 2013","c":"Ll","x":0.3221,"y":0.00806},{"s":"LUX 2013","c":"Ll","x":0.3451,"y":0.01298},{"s":"LUX 2013","c":"Ll","x":0.3873,"y":0.01891},{"s":"LUX 2013","c":"Ll","x":0.4875,"y":0.02841},{"s":"LUX 2013","c":"Ll","x":0.6887,"y":0.04135},{"s":"LUX 2013","c":"Ll","x":0.9727,"y":0.05462},{"s":"LUX 2013","c":"Ll","x":1.73,"y":0.07987},{"s":"LUX 2013","c":"Ll","x":3.076,"y":0.1115},{"s":"LUX 2013","c":"Ll","x":6.138,"y":0.1617},{"s":"LUX 2013","c":"Ll","x":12.82,"y":0.237},
 {"s":"1−tonne detector","c":"Tu","x":0.0126,"y":0.01551},{"s":"1−tonne detector","c":"Tu","x":0.03162,"y":0.01811},{"s":"1−tonne detector","c":"Tu","x":0.1,"y":0.02533},{"s":"1−tonne detector","c":"Tu","x":0.2512,"y":0.03656},{"s":"1−tonne detector","c":"Tu","x":0.5012,"y":0.04984},{"s":"1−tonne detector","c":"Tu","x":1,"y":0.06911},{"s":"1−tonne detector","c":"Tu","x":1.995,"y":0.09667},{"s":"1−tonne detector","c":"Tu","x":3.981,"y":0.1359},{"s":"1−tonne detector","c":"Tu","x":12.59,"y":0.2407},
 {"s":"1−tonne detector","c":"Tl","x":0.03981,"y":0.0009},{"s":"1−tonne detector","c":"Tl","x":0.04046,"y":0.00172},{"s":"1−tonne detector","c":"Tl","x":0.04169,"y":0.00294},{"s":"1−tonne detector","c":"Tl","x":0.04467,"y":0.00472},{"s":"1−tonne detector","c":"Tl","x":0.05012,"y":0.00688},{"s":"1−tonne detector","c":"Tl","x":0.0631,"y":0.01034},{"s":"1−tonne detector","c":"Tl","x":0.08913,"y":0.01505},{"s":"1−tonne detector","c":"Tl","x":0.1259,"y":0.01988},{"s":"1−tonne detector","c":"Tl","x":0.2239,"y":0.02908},{"s":"1−tonne detector","c":"Tl","x":0.3981,"y":0.04056},{"s":"1−tonne detector","c":"Tl","x":1.259,"y":0.07482},{"s":"1−tonne detector","c":"Tl","x":3.981,"y":0.1345},{"s":"1−tonne detector","c":"Tl","x":12.59,"y":0.24},
 {"s":"LHC mono−jet 14TeV","c":"M","x":0.0126,"y":0.1755},{"s":"LHC mono−jet 14TeV","c":"M","x":0.03,"y":0.178},{"s":"LHC mono−jet 14TeV","c":"M","x":0.07,"y":0.1765},{"s":"LHC mono−jet 14TeV","c":"M","x":0.15,"y":0.178},{"s":"LHC mono−jet 14TeV","c":"M","x":0.35,"y":0.177},{"s":"LHC mono−jet 14TeV","c":"M","x":0.8,"y":0.1755},{"s":"LHC mono−jet 14TeV","c":"M","x":1.6,"y":0.178},{"s":"LHC mono−jet 14TeV","c":"M","x":3.5,"y":0.1775},{"s":"LHC mono−jet 14TeV","c":"M","x":6,"y":0.179},{"s":"LHC mono−jet 14TeV","c":"M","x":13,"y":0.1765}
],
"lab": [
 {"p":"a","t":"1. × 10⁻⁵","x":0.033,"y":0.346},{"p":"a","t":"1. × 10⁻⁷","x":1.075,"y":0.0824},{"p":"a","t":"1. × 10⁻⁹","x":0.1995,"y":0.01416},
 {"p":"b","t":"1. × 10⁻⁵","x":1.15,"y":0.297},{"p":"b","t":"1. × 10⁻⁷","x":0.179,"y":0.0944},{"p":"b","t":"1. × 10⁻⁹","x":0.0906,"y":0.0191},
 {"p":"c","t":"1. × 10⁻³","x":4.55,"y":1.035},{"p":"c","t":"1. × 10⁻⁵","x":0.771,"y":0.352},{"p":"c","t":"1. × 10⁻⁷","x":0.0405,"y":0.1047},{"p":"c","t":"1. × 10⁻⁷","x":3.11,"y":0.02286},{"p":"c","t":"1. × 10⁻⁹","x":0.217,"y":0.0042},
 {"p":"d","t":"1. × 10⁻³","x":2.93,"y":1.035},{"p":"d","t":"1. × 10⁻⁵","x":0.757,"y":0.337},{"p":"d","t":"1. × 10⁻⁷","x":0.0646,"y":0.0975},{"p":"d","t":"1. × 10⁻⁷","x":2.58,"y":0.023},{"p":"d","t":"1. × 10⁻⁹","x":0.174,"y":0.00362}
],
"box": [
 {"p":"a","x":0.02275,"x2":0.28,"y":0.00741,"y2":0.001334},
 {"p":"b","x":0.912,"x2":11.2,"y":0.00741,"y2":0.001334},
 {"p":"c","x":0.893,"x2":10.99,"y":0.00741,"y2":0.001334},
 {"p":"d","x":0.912,"x2":11.2,"y":0.00741,"y2":0.001334}
],
"info": [
 {"p":"a","t":"Model 1: H and Z'","x":0.251,"y":0.00522},{"p":"a","t":"mᵪ =10 GeV","x":0.251,"y":0.00353},{"p":"a","t":"θ=0.2 mH =600 GeV","x":0.251,"y":0.0023},{"p":"a","t":"mZ' =1000 GeV","x":0.251,"y":0.00157},
 {"p":"b","t":"Model 1: H and Z'","x":9.97,"y":0.00522},{"p":"b","t":"mᵪ =100 GeV","x":9.97,"y":0.00353},{"p":"b","t":"θ=0.2 mH =600 GeV","x":9.97,"y":0.0023},{"p":"b","t":"mZ' =1000 GeV","x":9.97,"y":0.00157},
 {"p":"c","t":"Model 1: H and Z'","x":9.82,"y":0.00522},{"p":"c","t":"mᵪ =10 GeV","x":9.82,"y":0.00353},{"p":"c","t":"θ=0.2 mH =600 GeV","x":9.82,"y":0.0023},{"p":"c","t":"mZ' =1000 GeV","x":9.82,"y":0.00157},
 {"p":"d","t":"Model 1: H and Z'","x":9.97,"y":0.00522},{"p":"d","t":"mᵪ =100 GeV","x":9.97,"y":0.00353},{"p":"d","t":"θ=0.2 mH =600 GeV","x":9.97,"y":0.0023},{"p":"d","t":"mZ' =1000 GeV","x":9.97,"y":0.00157}
]
},
"columns": 2,
"spacing": {"row": 495, "column": 283},
"bounds": "flush",
"resolve": {"scale": {"color": "independent"}, "legend": {"color": "independent"}},
"concat": [
{
 "width": 1064, "height": 1064,
 "title": {"text": "(a)", "orient": "bottom", "anchor": "middle", "frame": "group", "dx": -97, "offset": 109},
 "encoding": {
  "x": {"field": "x", "type": "quantitative", "scale": {"type": "log", "domain": [0.015, 12], "nice": false}, "axis": {"title": "yᵪ", "values": [0.02,0.03,0.04,0.05,0.06,0.07,0.08,0.09,0.1,0.2,0.3,0.4,0.5,0.6,0.7,0.8,0.9,1,2,3,4,5,6,7,8,9,10], "labelExpr": "datum.value == 0.1 ? '0.1' : datum.value == 1 ? '1.' : datum.value == 10 ? '10.' : ''"}},
  "y": {"field": "y", "type": "quantitative", "scale": {"type": "log", "domain": [0.001, 2.05], "nice": false}, "axis": {"title": "gqⱽ = gᵪⱽ", "values": [0.001,0.002,0.003,0.004,0.005,0.006,0.007,0.008,0.009,0.01,0.02,0.03,0.04,0.05,0.06,0.07,0.08,0.09,0.1,0.2,0.3,0.4,0.5,0.6,0.7,0.8,0.9,1], "labelExpr": "datum.value == 0.001 ? '0.001' : datum.value == 0.01 ? '0.01' : datum.value == 0.1 ? '0.1' : datum.value == 1 ? '1.' : ''"}}
 },
 "layer": [
  {"data": {"name": "aG"}, "mark": {"type": "line", "interpolate": "monotone", "clip": true, "color": "#8f8f8f", "strokeWidth": 1.8}, "encoding": {"detail": {"field": "c", "type": "nominal"}}},
  {"data": {"name": "hl"}, "mark": {"type": "line", "clip": true, "strokeWidth": 4}, "encoding": {"color": {"field": "s", "type": "nominal", "scale": {"domain": ["LUX 2013", "1−tonne detector", "LHC Z' → tt\u0304 8TeV", "LHC Z' → qq\u0304 8TeV", "LHC h → χχ\u0304 8TeV", "LHC mono−jet 8TeV", "LHC mono−jet 14TeV"], "range": ["#ff0000", "#ff0000", "#ff8000", "#00ffff", "#00ff00", "#800080", "#800080"]}, "legend": {"title": null, "orient": "none", "legendX": 584, "legendY": 551, "symbolType": "stroke", "symbolSize": 10609, "symbolStrokeWidth": 4, "labelFont": "Liberation Sans", "labelFontSize": 31, "labelColor": "black", "labelOffset": 22, "labelLimit": 0, "clipHeight": 31, "rowPadding": 23, "padding": 15, "cornerRadius": 26, "strokeColor": "#3a3a3a", "fillColor": "white", "encode": {"symbols": {"update": {"strokeDash": {"signal": "(indexof(datum.value,'tonne')>=0 || indexof(datum.value,'14TeV')>=0) ? [11,7] : [1,0]"}}}, "legend": {"update": {"strokeWidth": {"value": 2.5}}}}}}}},
  {"data": {"name": "vl"}, "mark": {"type": "line", "clip": true, "strokeWidth": 3.5}, "encoding": {"color": {"field": "s", "type": "nominal", "scale": {"domain": ["LUX 2013", "1−tonne detector", "LHC Z' → tt\u0304 8TeV", "LHC Z' → qq\u0304 8TeV", "LHC h → χχ\u0304 8TeV", "LHC mono−jet 8TeV", "LHC mono−jet 14TeV"], "range": ["#ff0000", "#ff0000", "#ff8000", "#00ffff", "#00ff00", "#800080", "#800080"]}}}},
  {"data": {"name": "aS"}, "transform": [{"filter": "datum.s == 'LUX 2013'"}], "mark": {"type": "line", "interpolate": "monotone", "clip": true, "strokeWidth": 6}, "encoding": {"color": {"field": "s", "type": "nominal", "scale": {"domain": ["LUX 2013", "1−tonne detector", "LHC Z' → tt\u0304 8TeV", "LHC Z' → qq\u0304 8TeV", "LHC h → χχ\u0304 8TeV", "LHC mono−jet 8TeV", "LHC mono−jet 14TeV"], "range": ["#ff0000", "#ff0000", "#ff8000", "#00ffff", "#00ff00", "#800080", "#800080"]}}, "detail": {"field": "c", "type": "nominal"}}},
  {"data": {"name": "aS"}, "transform": [{"filter": "datum.s != 'LUX 2013'"}], "mark": {"type": "line", "interpolate": "monotone", "clip": true, "strokeWidth": 6.5, "strokeDash": [50, 37]}, "encoding": {"color": {"field": "s", "type": "nominal", "scale": {"domain": ["LUX 2013", "1−tonne detector", "LHC Z' → tt\u0304 8TeV", "LHC Z' → qq\u0304 8TeV", "LHC h → χχ\u0304 8TeV", "LHC mono−jet 8TeV", "LHC mono−jet 14TeV"], "range": ["#ff0000", "#ff0000", "#ff8000", "#00ffff", "#00ff00", "#800080", "#800080"]}}, "detail": {"field": "c", "type": "nominal"}}},
  {"data": {"name": "lab"}, "transform": [{"filter": "datum.p == 'a'"}], "mark": {"type": "point", "shape": "M-1,-0.432L1,-0.432L1,0.432L-1,0.432Z", "size": 26244, "filled": true, "fill": "white", "stroke": "black", "strokeWidth": 4, "opacity": 1}},
  {"data": {"name": "lab"}, "transform": [{"filter": "datum.p == 'a'"}], "mark": {"type": "text", "font": "Liberation Serif", "fontSize": 34, "color": "black", "align": "center", "baseline": "middle"}, "encoding": {"text": {"field": "t", "type": "nominal"}}},
  {"data": {"name": "box"}, "transform": [{"filter": "datum.p == 'a'"}], "mark": {"type": "rect", "fill": "white", "stroke": "black", "strokeWidth": 4}, "encoding": {"x2": {"field": "x2"}, "y2": {"field": "y2"}}},
  {"data": {"name": "info"}, "transform": [{"filter": "datum.p == 'a'"}], "mark": {"type": "text", "font": "Liberation Serif", "fontSize": 43, "color": "black", "align": "right", "baseline": "alphabetic"}, "encoding": {"text": {"field": "t", "type": "nominal"}}}
 ]
},
{
 "width": 1064, "height": 1064,
 "title": {"text": "(b)", "orient": "bottom", "anchor": "middle", "frame": "group", "dx": -97, "offset": 109},
 "encoding": {
  "x": {"field": "x", "type": "quantitative", "scale": {"type": "log", "domain": [0.015, 12], "nice": false}, "axis": {"title": "yᵪ", "values": [0.02,0.03,0.04,0.05,0.06,0.07,0.08,0.09,0.1,0.2,0.3,0.4,0.5,0.6,0.7,0.8,0.9,1,2,3,4,5,6,7,8,9,10], "labelExpr": "datum.value == 0.1 ? '0.1' : datum.value == 1 ? '1.' : datum.value == 10 ? '10.' : ''"}},
  "y": {"field": "y", "type": "quantitative", "scale": {"type": "log", "domain": [0.001, 2.05], "nice": false}, "axis": {"title": "gqⱽ = gᵪⱽ", "values": [0.001,0.002,0.003,0.004,0.005,0.006,0.007,0.008,0.009,0.01,0.02,0.03,0.04,0.05,0.06,0.07,0.08,0.09,0.1,0.2,0.3,0.4,0.5,0.6,0.7,0.8,0.9,1], "labelExpr": "datum.value == 0.001 ? '0.001' : datum.value == 0.01 ? '0.01' : datum.value == 0.1 ? '0.1' : datum.value == 1 ? '1.' : ''"}}
 },
 "layer": [
  {"data": {"name": "bG"}, "mark": {"type": "line", "interpolate": "monotone", "clip": true, "color": "#8f8f8f", "strokeWidth": 1.8}, "encoding": {"detail": {"field": "c", "type": "nominal"}}},
  {"data": {"name": "hl"}, "mark": {"type": "line", "clip": true, "strokeWidth": 4}, "encoding": {"color": {"field": "s", "type": "nominal", "scale": {"domain": ["LUX 2013", "1−tonne detector", "LHC Z' → tt\u0304 8TeV", "LHC Z' → qq\u0304 8TeV", "LHC h → χχ\u0304 8TeV", "LHC mono−jet 8TeV", "LHC mono−jet 14TeV"], "range": ["#ff0000", "#ff0000", "#ff8000", "#00ffff", "#00ff00", "#800080", "#800080"]}, "legend": null}}},
  {"data": {"name": "bS"}, "transform": [{"filter": "datum.s == 'LUX 2013'"}], "mark": {"type": "line", "interpolate": "monotone", "clip": true, "strokeWidth": 6}, "encoding": {"color": {"field": "s", "type": "nominal", "scale": {"domain": ["LUX 2013", "1−tonne detector", "LHC Z' → tt\u0304 8TeV", "LHC Z' → qq\u0304 8TeV", "LHC h → χχ\u0304 8TeV", "LHC mono−jet 8TeV", "LHC mono−jet 14TeV"], "range": ["#ff0000", "#ff0000", "#ff8000", "#00ffff", "#00ff00", "#800080", "#800080"]}, "legend": null}, "detail": {"field": "c", "type": "nominal"}}},
  {"data": {"name": "bS"}, "transform": [{"filter": "datum.s != 'LUX 2013'"}], "mark": {"type": "line", "interpolate": "monotone", "clip": true, "strokeWidth": 6.5, "strokeDash": [50, 37]}, "encoding": {"color": {"field": "s", "type": "nominal", "scale": {"domain": ["LUX 2013", "1−tonne detector", "LHC Z' → tt\u0304 8TeV", "LHC Z' → qq\u0304 8TeV", "LHC h → χχ\u0304 8TeV", "LHC mono−jet 8TeV", "LHC mono−jet 14TeV"], "range": ["#ff0000", "#ff0000", "#ff8000", "#00ffff", "#00ff00", "#800080", "#800080"]}, "legend": null}, "detail": {"field": "c", "type": "nominal"}}},
  {"data": {"name": "lab"}, "transform": [{"filter": "datum.p == 'b'"}], "mark": {"type": "point", "shape": "M-1,-0.432L1,-0.432L1,0.432L-1,0.432Z", "size": 26244, "filled": true, "fill": "white", "stroke": "black", "strokeWidth": 4, "opacity": 1}},
  {"data": {"name": "lab"}, "transform": [{"filter": "datum.p == 'b'"}], "mark": {"type": "text", "font": "Liberation Serif", "fontSize": 34, "color": "black", "align": "center", "baseline": "middle"}, "encoding": {"text": {"field": "t", "type": "nominal"}}},
  {"data": {"name": "box"}, "transform": [{"filter": "datum.p == 'b'"}], "mark": {"type": "rect", "fill": "white", "stroke": "black", "strokeWidth": 4}, "encoding": {"x2": {"field": "x2"}, "y2": {"field": "y2"}}},
  {"data": {"name": "info"}, "transform": [{"filter": "datum.p == 'b'"}], "mark": {"type": "text", "font": "Liberation Serif", "fontSize": 43, "color": "black", "align": "right", "baseline": "alphabetic"}, "encoding": {"text": {"field": "t", "type": "nominal"}}}
 ]
},
{
 "width": 1064, "height": 1064,
 "title": {"text": "(c)", "orient": "bottom", "anchor": "middle", "frame": "group", "dx": -97, "offset": 109},
 "encoding": {
  "x": {"field": "x", "type": "quantitative", "scale": {"type": "log", "domain": [0.015, 12], "nice": false}, "axis": {"title": "−yᵪ", "values": [0.02,0.03,0.04,0.05,0.06,0.07,0.08,0.09,0.1,0.2,0.3,0.4,0.5,0.6,0.7,0.8,0.9,1,2,3,4,5,6,7,8,9,10], "labelExpr": "datum.value == 0.1 ? '0.1' : datum.value == 1 ? '1.' : datum.value == 10 ? '10.' : ''"}},
  "y": {"field": "y", "type": "quantitative", "scale": {"type": "log", "domain": [0.001, 2.05], "nice": false}, "axis": {"title": "gqⱽ = gᵪⱽ", "values": [0.001,0.002,0.003,0.004,0.005,0.006,0.007,0.008,0.009,0.01,0.02,0.03,0.04,0.05,0.06,0.07,0.08,0.09,0.1,0.2,0.3,0.4,0.5,0.6,0.7,0.8,0.9,1], "labelExpr": "datum.value == 0.001 ? '0.001' : datum.value == 0.01 ? '0.01' : datum.value == 0.1 ? '0.1' : datum.value == 1 ? '1.' : ''"}}
 },
 "layer": [
  {"data": {"name": "cG"}, "mark": {"type": "line", "interpolate": "monotone", "clip": true, "color": "#8f8f8f", "strokeWidth": 1.8}, "encoding": {"detail": {"field": "c", "type": "nominal"}}},
  {"data": {"name": "zc"}, "mark": {"type": "line", "clip": true, "color": "#b9b9b9", "strokeWidth": 14}},
  {"data": {"name": "zc"}, "mark": {"type": "line", "clip": true, "color": "#444444", "strokeWidth": 3, "strokeDash": [3, 5]}},
  {"data": {"name": "hl"}, "mark": {"type": "line", "clip": true, "strokeWidth": 4}, "encoding": {"color": {"field": "s", "type": "nominal", "scale": {"domain": ["LUX 2013", "1−tonne detector", "LHC Z' → tt\u0304 8TeV", "LHC Z' → qq\u0304 8TeV", "LHC h → χχ\u0304 8TeV", "LHC mono−jet 8TeV", "LHC mono−jet 14TeV"], "range": ["#ff0000", "#ff0000", "#ff8000", "#00ffff", "#00ff00", "#800080", "#800080"]}, "legend": null}}},
  {"data": {"name": "vl"}, "mark": {"type": "line", "clip": true, "strokeWidth": 3.5}, "encoding": {"color": {"field": "s", "type": "nominal", "scale": {"domain": ["LUX 2013", "1−tonne detector", "LHC Z' → tt\u0304 8TeV", "LHC Z' → qq\u0304 8TeV", "LHC h → χχ\u0304 8TeV", "LHC mono−jet 8TeV", "LHC mono−jet 14TeV"], "range": ["#ff0000", "#ff0000", "#ff8000", "#00ffff", "#00ff00", "#800080", "#800080"]}, "legend": null}}},
  {"data": {"name": "cS"}, "transform": [{"filter": "datum.s == 'LUX 2013'"}], "mark": {"type": "line", "interpolate": "monotone", "clip": true, "strokeWidth": 6}, "encoding": {"color": {"field": "s", "type": "nominal", "scale": {"domain": ["LUX 2013", "1−tonne detector", "LHC Z' → tt\u0304 8TeV", "LHC Z' → qq\u0304 8TeV", "LHC h → χχ\u0304 8TeV", "LHC mono−jet 8TeV", "LHC mono−jet 14TeV"], "range": ["#ff0000", "#ff0000", "#ff8000", "#00ffff", "#00ff00", "#800080", "#800080"]}, "legend": null}, "detail": {"field": "c", "type": "nominal"}}},
  {"data": {"name": "cS"}, "transform": [{"filter": "datum.s != 'LUX 2013'"}], "mark": {"type": "line", "interpolate": "monotone", "clip": true, "strokeWidth": 6.5, "strokeDash": [50, 37]}, "encoding": {"color": {"field": "s", "type": "nominal", "scale": {"domain": ["LUX 2013", "1−tonne detector", "LHC Z' → tt\u0304 8TeV", "LHC Z' → qq\u0304 8TeV", "LHC h → χχ\u0304 8TeV", "LHC mono−jet 8TeV", "LHC mono−jet 14TeV"], "range": ["#ff0000", "#ff0000", "#ff8000", "#00ffff", "#00ff00", "#800080", "#800080"]}, "legend": null}, "detail": {"field": "c", "type": "nominal"}}},
  {"data": {"name": "lab"}, "transform": [{"filter": "datum.p == 'c'"}], "mark": {"type": "point", "shape": "M-1,-0.432L1,-0.432L1,0.432L-1,0.432Z", "size": 26244, "filled": true, "fill": "white", "stroke": "black", "strokeWidth": 4, "opacity": 1}},
  {"data": {"name": "lab"}, "transform": [{"filter": "datum.p == 'c'"}], "mark": {"type": "text", "font": "Liberation Serif", "fontSize": 34, "color": "black", "align": "center", "baseline": "middle"}, "encoding": {"text": {"field": "t", "type": "nominal"}}},
  {"data": {"name": "box"}, "transform": [{"filter": "datum.p == 'c'"}], "mark": {"type": "rect", "fill": "white", "stroke": "black", "strokeWidth": 4}, "encoding": {"x2": {"field": "x2"}, "y2": {"field": "y2"}}},
  {"data": {"name": "info"}, "transform": [{"filter": "datum.p == 'c'"}], "mark": {"type": "text", "font": "Liberation Serif", "fontSize": 43, "color": "black", "align": "right", "baseline": "alphabetic"}, "encoding": {"text": {"field": "t", "type": "nominal"}}}
 ]
},
{
 "width": 1064, "height": 1064,
 "title": {"text": "(d)", "orient": "bottom", "anchor": "middle", "frame": "group", "dx": -97, "offset": 109},
 "encoding": {
  "x": {"field": "x", "type": "quantitative", "scale": {"type": "log", "domain": [0.015, 12], "nice": false}, "axis": {"title": "−yᵪ", "values": [0.02,0.03,0.04,0.05,0.06,0.07,0.08,0.09,0.1,0.2,0.3,0.4,0.5,0.6,0.7,0.8,0.9,1,2,3,4,5,6,7,8,9,10], "labelExpr": "datum.value == 0.1 ? '0.1' : datum.value == 1 ? '1.' : datum.value == 10 ? '10.' : ''"}},
  "y": {"field": "y", "type": "quantitative", "scale": {"type": "log", "domain": [0.001, 2.05], "nice": false}, "axis": {"title": "gqⱽ = gᵪⱽ", "values": [0.001,0.002,0.003,0.004,0.005,0.006,0.007,0.008,0.009,0.01,0.02,0.03,0.04,0.05,0.06,0.07,0.08,0.09,0.1,0.2,0.3,0.4,0.5,0.6,0.7,0.8,0.9,1], "labelExpr": "datum.value == 0.001 ? '0.001' : datum.value == 0.01 ? '0.01' : datum.value == 0.1 ? '0.1' : datum.value == 1 ? '1.' : ''"}}
 },
 "layer": [
  {"data": {"name": "dG"}, "mark": {"type": "line", "interpolate": "monotone", "clip": true, "color": "#8f8f8f", "strokeWidth": 1.8}, "encoding": {"detail": {"field": "c", "type": "nominal"}}},
  {"data": {"name": "zd"}, "mark": {"type": "line", "clip": true, "color": "#b9b9b9", "strokeWidth": 14}},
  {"data": {"name": "zd"}, "mark": {"type": "line", "clip": true, "color": "#444444", "strokeWidth": 3, "strokeDash": [3, 5]}},
  {"data": {"name": "hl"}, "mark": {"type": "line", "clip": true, "strokeWidth": 4}, "encoding": {"color": {"field": "s", "type": "nominal", "scale": {"domain": ["LUX 2013", "1−tonne detector", "LHC Z' → tt\u0304 8TeV", "LHC Z' → qq\u0304 8TeV", "LHC h → χχ\u0304 8TeV", "LHC mono−jet 8TeV", "LHC mono−jet 14TeV"], "range": ["#ff0000", "#ff0000", "#ff8000", "#00ffff", "#00ff00", "#800080", "#800080"]}, "legend": null}}},
  {"data": {"name": "dS"}, "transform": [{"filter": "datum.s == 'LUX 2013'"}], "mark": {"type": "line", "interpolate": "monotone", "clip": true, "strokeWidth": 6}, "encoding": {"color": {"field": "s", "type": "nominal", "scale": {"domain": ["LUX 2013", "1−tonne detector", "LHC Z' → tt\u0304 8TeV", "LHC Z' → qq\u0304 8TeV", "LHC h → χχ\u0304 8TeV", "LHC mono−jet 8TeV", "LHC mono−jet 14TeV"], "range": ["#ff0000", "#ff0000", "#ff8000", "#00ffff", "#00ff00", "#800080", "#800080"]}, "legend": null}, "detail": {"field": "c", "type": "nominal"}}},
  {"data": {"name": "dS"}, "transform": [{"filter": "datum.s != 'LUX 2013'"}], "mark": {"type": "line", "interpolate": "monotone", "clip": true, "strokeWidth": 6.5, "strokeDash": [50, 37]}, "encoding": {"color": {"field": "s", "type": "nominal", "scale": {"domain": ["LUX 2013", "1−tonne detector", "LHC Z' → tt\u0304 8TeV", "LHC Z' → qq\u0304 8TeV", "LHC h → χχ\u0304 8TeV", "LHC mono−jet 8TeV", "LHC mono−jet 14TeV"], "range": ["#ff0000", "#ff0000", "#ff8000", "#00ffff", "#00ff00", "#800080", "#800080"]}, "legend": null}, "detail": {"field": "c", "type": "nominal"}}},
  {"data": {"name": "lab"}, "transform": [{"filter": "datum.p == 'd'"}], "mark": {"type": "point", "shape": "M-1,-0.432L1,-0.432L1,0.432L-1,0.432Z", "size": 26244, "filled": true, "fill": "white", "stroke": "black", "strokeWidth": 4, "opacity": 1}},
  {"data": {"name": "lab"}, "transform": [{"filter": "datum.p == 'd'"}], "mark": {"type": "text", "font": "Liberation Serif", "fontSize": 34, "color": "black", "align": "center", "baseline": "middle"}, "encoding": {"text": {"field": "t", "type": "nominal"}}},
  {"data": {"name": "box"}, "transform": [{"filter": "datum.p == 'd'"}], "mark": {"type": "rect", "fill": "white", "stroke": "black", "strokeWidth": 4}, "encoding": {"x2": {"field": "x2"}, "y2": {"field": "y2"}}},
  {"data": {"name": "info"}, "transform": [{"filter": "datum.p == 'd'"}], "mark": {"type": "text", "font": "Liberation Serif", "fontSize": 43, "color": "black", "align": "right", "baseline": "alphabetic"}, "encoding": {"text": {"field": "t", "type": "nominal"}}}
 ]
}
]
}
